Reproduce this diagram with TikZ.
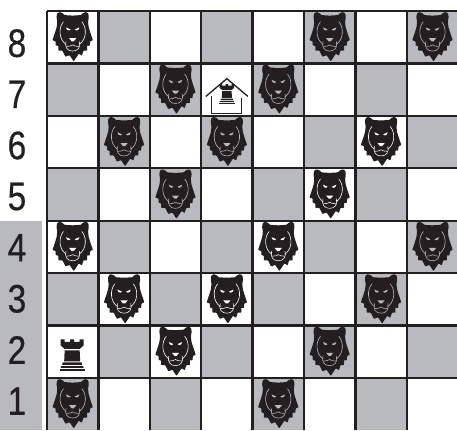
\documentclass[tikz,border=0pt]{standalone}
\usepackage{fontspec}
\usetikzlibrary{positioning, calc}
\newfontfamily\rankfont[FakeStretch=0.84, FakeBold=0.5]{Liberation Sans}
\definecolor{boardgray}{HTML}{B8BABD}
\definecolor{boardink}{HTML}{231F20}
\tikzset{
  ranklabel/.style={font=\rankfont\fontsize{33}{33}\selectfont, text=boardink, inner sep=0pt},
  gridline/.style={draw=boardink, line width=1.9pt},
  pics/lion/.style={code={
    \begin{scope}[x=0.3mm, y=0.3mm]
      % head and mane
      \fill[boardink, rounded corners=0.5pt] (0,20) -- (8,20.5) -- (10,22.5) -- (13,23.5) -- (15.2,22)
        -- (15.7,18.5) -- (15,14) -- (15.5,9) -- (17,4) -- (19.7,-4) -- (17,-5) -- (16.5,-9.5) -- (14,-9)
        -- (14,-14) -- (10.5,-14) -- (9,-19) -- (6,-17) -- (1,-24.5) -- (-3,-18.5) -- (-7,-20)
        -- (-10,-14) -- (-14,-14) -- (-14,-9.5) -- (-16.5,-9) -- (-16.5,-5) -- (-19.7,-4) -- (-17,4)
        -- (-15.5,9) -- (-15,14) -- (-15.7,18.5) -- (-15.2,22) -- (-13,23.5) -- (-10,22.5) -- (-8,20.5) -- cycle;
      % cheek arcs
      \draw[#1, line width=0.5pt, line cap=round] (-9,14) .. controls (-14,8) and (-13.5,-3) .. (-6.5,-8);
      \draw[#1, line width=0.5pt, line cap=round] (9,14) .. controls (14,8) and (13.5,-3) .. (6.5,-8);
      % eyes
      \fill[#1] (-6.5,8.5) -- (-2,6.5) -- (-3.5,5.5) -- (-5.5,6.2) -- cycle;
      \fill[#1] (6.5,8.5) -- (2,6.5) -- (3.5,5.5) -- (5.5,6.2) -- cycle;
      % nose
      \fill[#1] (-3.5,-2) -- (3.5,-2) -- (1,-5) -- (-1,-5) -- cycle;
      % muzzle
      \draw[#1, line width=0.45pt] (-6.5,-5) .. controls (-8,-11) and (-5,-14.5) .. (0,-14.5)
        .. controls (5,-14.5) and (8,-11) .. (6.5,-5);
      \draw[#1, line width=0.45pt] (-6,-10) .. controls (-3,-10.5) and (-1.5,-9) .. (0,-8.5)
        .. controls (1.5,-9) and (3,-10.5) .. (6,-10);
    \end{scope}
  }},
  pics/rookpiece/.style={code={
    \begin{scope}[x=0.292mm, y=0.292mm]
      % battlements
      \fill[boardink] (-11.5,15.5) -- (-7.5,15.5) -- (-7.5,13) -- (-2,13) -- (-2,15.5) -- (2,15.5) -- (2,13)
        -- (7.5,13) -- (7.5,15.5) -- (11.5,15.5) -- (11.5,9.5) -- (7.5,6) -- (-7.5,6) -- (-11.5,9.5) -- cycle;
      % body
      \fill[boardink] (-7.5,4.5) -- (7.5,4.5) -- (8,-6.5) -- (-8,-6.5) -- cycle;
      \fill[boardink] (-9.5,-7.5) -- (9.5,-7.5) -- (10,-10) -- (-10,-10) -- cycle;
      % base
      \fill[boardink] (-11,-11.2) -- (11,-11.2) -- (11.5,-13) -- (-11.5,-13) -- cycle;
      \fill[boardink] (-12.5,-13.8) -- (12.5,-13.8) -- (12.5,-16) -- (-12.5,-16) -- cycle;
    \end{scope}
  }},
}
\begin{document}
\begin{tikzpicture}[x=1.5cm, y=1.53cm]
    \useasboundingbox (-0.914,0) rectangle (7.977,8.21);
    % rank strip
    \fill[boardgray] (-0.914,0) rectangle (-0.097,4);
    % squares
    \foreach \c in {0,...,7}
      \foreach \r in {0,...,7} {
        \pgfmathtruncatemacro{\odd}{mod(\c+\r,2)}
        \ifnum\odd=0
          \fill[boardgray] (\c,\r) rectangle ++(1,1);
        \fi
      }
    % grid
    \foreach \c in {0,...,7}
      \draw[gridline] (\c,0) -- (\c,8);
    \foreach \r in {1,...,8}
      \draw[gridline] (0,\r) -- (8,\r);
    % rank labels
    \foreach \n in {1,...,8}
      \node[ranklabel] (rank\n) at (-0.584,{0.56+0.975*(\n-1)}) {\n};
    % lions
    \foreach \c/\r in {5/7,7/7,2/6,4/6,1/5,3/5,2/4,7/3,6/2,5/1,0/0,4/0}
      \pic at (\c+0.5,\r+0.52) {lion=boardgray};
    \foreach \c/\r in {0/7,6/5,5/4,0/3,4/3,1/2,3/2,2/1}
      \pic at (\c+0.5,\r+0.52) {lion=white};
    % rook on its own square
    \pic at (0.49,1.44) {rookpiece};
    % rook at home
    \pic[scale=0.63] at (3.5,6.42) {rookpiece};
    \draw[boardink, line width=1.1pt] (3.09,6.37) -- (3.5,6.71) -- (3.91,6.37);
    \draw[boardink, line width=1.1pt] (3.2,6.37) -- (3.2,6.05) -- (3.79,6.05) -- (3.79,6.34);
  \end{tikzpicture}
\end{document}
